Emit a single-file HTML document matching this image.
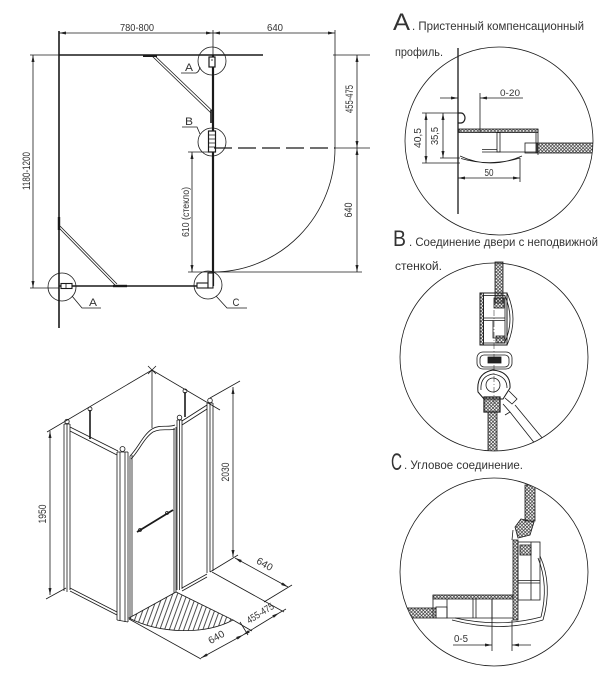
<!DOCTYPE html>
<html><head><meta charset="utf-8"><style>
html,body{margin:0;padding:0;background:#fff}
svg{display:block}
text{font-family:"Liberation Sans","Noto Sans CJK SC",sans-serif;fill:#333;stroke:none}
</style></head><body>
<svg width="609" height="680" viewBox="0 0 609 680" xmlns="http://www.w3.org/2000/svg">
<defs>
<marker id="ar" viewBox="0 0 7 3" refX="7" refY="1.5" markerWidth="7" markerHeight="3" markerUnits="userSpaceOnUse" orient="auto-start-reverse"><path d="M0,0 L7,1.5 L0,3 z" fill="#222"/></marker>
<pattern id="gl" width="3.4" height="3.4" patternUnits="userSpaceOnUse"><path d="M0,0L3.4,3.4M3.4,0L0,3.4" stroke="#333" stroke-width="0.7"/></pattern>
<pattern id="hat" width="4.5" height="10" patternUnits="userSpaceOnUse" patternTransform="rotate(20)"><line x1="1" y1="0" x2="1" y2="10" stroke="#222" stroke-width="0.8"/></pattern>
<clipPath id="cA"><circle cx="499" cy="141" r="94"/></clipPath>
<clipPath id="cB"><circle cx="494" cy="357" r="94"/></clipPath>
<clipPath id="cC"><circle cx="494" cy="572" r="94"/></clipPath>
</defs>

<!-- ================= PLAN ================= -->
<g stroke="#1a1a1a" fill="none" stroke-width="0.8">
  <line x1="59" y1="33" x2="213" y2="33" marker-start="url(#ar)" marker-end="url(#ar)"/>
  <line x1="213" y1="33" x2="335" y2="33" marker-start="url(#ar)" marker-end="url(#ar)"/>
  <line x1="213" y1="30" x2="213" y2="55"/>
  <line x1="335" y1="30" x2="335" y2="148"/>
  <line x1="33" y1="55" x2="33" y2="288" marker-start="url(#ar)" marker-end="url(#ar)"/>
  <line x1="30" y1="55" x2="59" y2="55"/>
  <line x1="30" y1="288" x2="59" y2="288"/>
  <line x1="59" y1="55" x2="263" y2="55" stroke-width="1.6"/>
  <line x1="59" y1="31" x2="59" y2="328" stroke-width="1.6"/>
  <line x1="59" y1="286" x2="213" y2="286" stroke-width="1.6"/>
  <line x1="213" y1="55" x2="213" y2="286" stroke-width="2.2"/>
  <line x1="152" y1="56" x2="211" y2="113"/>
  <line x1="154" y1="55" x2="212.5" y2="111"/>
  <line x1="143" y1="56" x2="157" y2="56" stroke-width="2"/>
  <line x1="211" y1="110" x2="211" y2="123" stroke-width="1.6"/>
  <line x1="59" y1="228" x2="115" y2="285"/>
  <line x1="60" y1="226" x2="117" y2="284"/>
  <line x1="59" y1="217" x2="59" y2="230" stroke-width="2.4"/>
  <line x1="113" y1="286" x2="127" y2="286" stroke-width="2.4"/>
  <rect x="209" y="57" width="6" height="10" fill="#fff" stroke-width="1.2"/>
  <line x1="211" y1="60" x2="213" y2="60"/>
  <rect x="208.5" y="131" width="7" height="21" fill="#fff" stroke-width="1.2"/>
  <path d="M209,135h6M209,139h6M209,143h6M209,147h6"/>
  <rect x="61" y="283.5" width="11" height="5" fill="#fff" stroke-width="1.1"/>
  <line x1="66" y1="283.5" x2="66" y2="288.5"/>
  <rect x="197" y="283" width="11" height="5" fill="#fff" stroke-width="1.1"/>
  <rect x="208" y="273" width="5" height="15" fill="#fff" stroke-width="1.1"/>
  <circle cx="212" cy="61" r="14"/>
  <circle cx="212" cy="142" r="14"/>
  <circle cx="62" cy="287" r="14"/>
  <circle cx="208" cy="285" r="14"/>
  <path d="M181,73 L196,73 Q199,72 200,67"/>
  <path d="M182,127 L197,127 L200,134"/>
  <path d="M72,296 L82,308 L101,308"/>
  <path d="M216,296 L227,308 L247,308"/>
  <line x1="214" y1="148" x2="335" y2="148" stroke-width="1.3" stroke-dasharray="18,6"/>
  <line x1="335" y1="148" x2="370" y2="148"/>
  <path d="M335,148 A122,124 0 0 1 213,272"/>
  <line x1="213" y1="272" x2="362" y2="272"/>
  <line x1="333" y1="55" x2="370" y2="55"/>
  <line x1="357" y1="55" x2="357" y2="148" marker-start="url(#ar)" marker-end="url(#ar)"/>
  <line x1="357" y1="148" x2="357" y2="272" marker-start="url(#ar)" marker-end="url(#ar)"/>
  <line x1="192" y1="152" x2="192" y2="272" marker-start="url(#ar)" marker-end="url(#ar)"/>
  <line x1="188" y1="152" x2="213" y2="152"/>
  <line x1="188" y1="272" x2="213" y2="272"/>
</g>
<g font-size="10">
  <text x="137" y="31" text-anchor="middle" textLength="34" lengthAdjust="spacingAndGlyphs">780-800</text>
  <text x="275" y="31" text-anchor="middle" textLength="16" lengthAdjust="spacingAndGlyphs">640</text>
  <text transform="translate(30,171) rotate(-90)" text-anchor="middle" font-size="11" y="0" textLength="38" lengthAdjust="spacingAndGlyphs">1180-1200</text>
  <text transform="translate(353,99) rotate(-90)" text-anchor="middle" font-size="11" textLength="28" lengthAdjust="spacingAndGlyphs">455-475</text>
  <text transform="translate(352,210) rotate(-90)" text-anchor="middle" font-size="11" textLength="15" lengthAdjust="spacingAndGlyphs">640</text>
  <text transform="translate(189,212) rotate(-90)" text-anchor="middle" font-size="10" textLength="50" lengthAdjust="spacingAndGlyphs">610 (стекло)</text>
  <text x="189" y="71" text-anchor="middle" font-size="11" textLength="8" lengthAdjust="spacingAndGlyphs">A</text>
  <text x="189" y="125" text-anchor="middle" font-size="11" textLength="8" lengthAdjust="spacingAndGlyphs">B</text>
  <text x="93" y="306" text-anchor="middle" font-size="11" textLength="8" lengthAdjust="spacingAndGlyphs">A</text>
  <text x="236" y="306" text-anchor="middle" font-size="11" textLength="7" lengthAdjust="spacingAndGlyphs">C</text>
</g>

<!-- ================= ISO ================= -->
<path d="M129,618 L176,592 L233,620 C205,635 160,634 129,618 Z" fill="url(#hat)" stroke="#1a1a1a" stroke-width="0.8"/>
<g stroke="#1a1a1a" fill="none" stroke-width="0.8">
  <polyline points="47,432 152,370 220,410"/>
  <line x1="148" y1="366" x2="156" y2="374"/><line x1="156" y1="366" x2="148" y2="374"/>
  <line x1="152" y1="370" x2="152" y2="428"/>
  <line x1="210" y1="398" x2="240" y2="381"/>
  <line x1="50" y1="431" x2="50" y2="595" marker-start="url(#ar)" marker-end="url(#ar)"/>
  <line x1="46" y1="599" x2="66" y2="588"/>
  <line x1="233" y1="387" x2="233" y2="557" marker-start="url(#ar)" marker-end="url(#ar)"/>
  <line x1="210" y1="572" x2="238" y2="555"/>
  <!-- left post -->
  <path d="M64,424V591M67,424V592M70,424V590"/>
  <path d="M64,424 H70"/>
  <circle cx="67" cy="421.5" r="2.2"/>
  <line x1="70" y1="427" x2="118" y2="451"/>
  <line x1="70" y1="431" x2="117" y2="455"/>
  <line x1="70" y1="588" x2="117" y2="612"/>
  <line x1="70" y1="591" x2="117" y2="615"/>
  <line x1="90" y1="410" x2="90" y2="439" stroke-width="1.6"/>
  <circle cx="90" cy="409" r="2"/>
  <!-- corner post -->
  <path d="M117,452V620M120,452V621M125,452V622M128,452V622"/>
  <path d="M117,452 H128"/>
  <circle cx="122.5" cy="449" r="2.5"/>
  <line x1="117" y1="620" x2="128" y2="622"/>
  <!-- door -->
  <path d="M130,456V617M132,455V616"/>
  <path d="M174,428V593M176,427V592"/>
  <path d="M130,456 C138,448 143,435 152,429 C160,424 168,428 175,425"/>
  <path d="M131,459 C139,451 144,438 153,432 C161,428 168,431 175,429"/>
  <line x1="137" y1="532" x2="173" y2="510" stroke-width="1.8"/>
  <circle cx="140" cy="530" r="1.5"/><circle cx="167" cy="513" r="1.5"/>
  <!-- right fixed panel -->
  <path d="M177,420V590M179.5,420V590M182,420V589"/>
  <path d="M177,420 H182"/>
  <circle cx="179.5" cy="417.5" r="2.3"/>
  <line x1="182" y1="421" x2="207" y2="405"/>
  <line x1="182" y1="425" x2="207" y2="409"/>
  <line x1="182" y1="588" x2="207" y2="574"/>
  <line x1="182" y1="591" x2="207" y2="577"/>
  <path d="M207,403V573M210,403V572M213,403V571"/>
  <path d="M207,403 H213"/>
  <circle cx="210" cy="400.5" r="2.3"/>
  <line x1="185" y1="392" x2="185" y2="417" stroke-width="1.6"/>
  <circle cx="185" cy="391" r="2"/>
  <!-- floor -->
  <line x1="212" y1="572" x2="284" y2="612"/>
  <line x1="233" y1="620" x2="252" y2="631"/>
  <line x1="129" y1="619" x2="201" y2="659"/>
  <line x1="201" y1="658" x2="243" y2="635" marker-start="url(#ar)" marker-end="url(#ar)"/>
  <line x1="243" y1="635" x2="279" y2="613" marker-start="url(#ar)" marker-end="url(#ar)"/>
  <line x1="279" y1="613" x2="286" y2="609"/>
  <line x1="235" y1="558" x2="288" y2="587" marker-start="url(#ar)" marker-end="url(#ar)"/>
  <line x1="292" y1="585" x2="264" y2="602"/>
  <line x1="248" y1="635" x2="240" y2="622"/>
</g>
<g font-size="10">
  <text transform="translate(46,514) rotate(-90)" text-anchor="middle" font-size="11" textLength="19" lengthAdjust="spacingAndGlyphs">1950</text>
  <text transform="translate(229,472) rotate(-90)" text-anchor="middle" font-size="11" textLength="19" lengthAdjust="spacingAndGlyphs">2030</text>
  <text transform="translate(263,567) rotate(30)" text-anchor="middle" textLength="17" lengthAdjust="spacingAndGlyphs">640</text>
  <text transform="translate(262,616) rotate(-32)" text-anchor="middle" textLength="30" lengthAdjust="spacingAndGlyphs">455-475</text>
  <text transform="translate(218,640) rotate(-30)" text-anchor="middle" textLength="17" lengthAdjust="spacingAndGlyphs">640</text>
</g>

<!-- ================= HEADINGS ================= -->
<text x="393" y="30" font-size="24" textLength="17" lengthAdjust="spacingAndGlyphs">A</text>
<text x="412" y="30" font-size="11.5" textLength="172" lengthAdjust="spacingAndGlyphs">. Пристенный компенсационный</text>
<text x="395" y="56" font-size="11.5" textLength="48" lengthAdjust="spacingAndGlyphs">профиль.</text>
<text x="393" y="246" font-size="22" textLength="13" lengthAdjust="spacingAndGlyphs">B</text>
<text x="409" y="246" font-size="11.5" textLength="189" lengthAdjust="spacingAndGlyphs">. Соединение двери с неподвижной</text>
<text x="395" y="270" font-size="11.5" textLength="47" lengthAdjust="spacingAndGlyphs">стенкой.</text>
<text x="391" y="470" font-size="24" textLength="11" lengthAdjust="spacingAndGlyphs">C</text>
<text x="404" y="469" font-size="11.5" textLength="119" lengthAdjust="spacingAndGlyphs">. Угловое соединение.</text>

<!-- ================= DETAIL A ================= -->
<g stroke="#1a1a1a" fill="none" stroke-width="0.8">
  <circle cx="499" cy="141" r="94"/>
  <line x1="458" y1="48" x2="458" y2="214" stroke-width="1.3"/>
  <path d="M458,113 h3 a4,5 0 0 1 0,10 h-3" stroke-width="1.2"/>
  <line x1="440" y1="98" x2="458" y2="98" marker-end="url(#ar)"/>
  <line x1="480" y1="93" x2="480" y2="132"/>
  <line x1="523" y1="98" x2="480" y2="98" marker-end="url(#ar)"/>
  <line x1="426" y1="113" x2="426" y2="163" marker-start="url(#ar)" marker-end="url(#ar)"/>
  <line x1="422" y1="113" x2="458" y2="113"/>
  <line x1="422" y1="163" x2="460" y2="163"/>
  <line x1="443" y1="113" x2="443" y2="158" marker-start="url(#ar)" marker-end="url(#ar)"/>
  <line x1="440" y1="158" x2="460" y2="158"/>
  <line x1="458" y1="178" x2="520" y2="178" marker-start="url(#ar)" marker-end="url(#ar)"/>
  <line x1="520" y1="158" x2="520" y2="182"/>
  <rect x="459" y="129" width="79" height="3.5" fill="url(#gl)"/>
  <path d="M538,129 V155 M536,133 V153 M482,152 H536 M482,149.5 H497"/>
  <rect x="497" y="132.5" width="3" height="19.5"/>
  <rect x="525" y="143" width="12" height="10"/>
  <path d="M460,156 Q490,170 522,156 M461,158.5 Q490,167 520,158"/>
  <g clip-path="url(#cA)"><rect x="537" y="143" width="62" height="10" fill="url(#gl)"/></g>
</g>
<text x="510" y="96" font-size="9.5" text-anchor="middle" textLength="20" lengthAdjust="spacingAndGlyphs">0-20</text>
<text transform="translate(421,138) rotate(-90)" font-size="10" text-anchor="middle" textLength="20" lengthAdjust="spacingAndGlyphs">40,5</text>
<text transform="translate(438,136) rotate(-90)" font-size="10" text-anchor="middle" textLength="18" lengthAdjust="spacingAndGlyphs">35,5</text>
<text x="489" y="176" font-size="10" text-anchor="middle" textLength="9" lengthAdjust="spacingAndGlyphs">50</text>

<!-- ================= DETAIL B ================= -->
<g stroke="#1a1a1a" fill="none" stroke-width="0.8">
  <circle cx="494" cy="357" r="94"/>
  <rect x="495" y="262" width="8" height="41" fill="url(#gl)"/>
  <rect x="480" y="293" width="27" height="52" stroke-width="1"/>
  <rect x="480" y="293" width="3.5" height="52" fill="url(#gl)"/>
  <rect x="483.5" y="295.5" width="21.5" height="47.5"/>
  <path d="M483.5,318 H505 M483.5,320.5 H505"/>
  <rect x="494" y="298" width="10" height="10" fill="url(#gl)"/>
  <path d="M493,320.5 V338 H505"/>
  <rect x="496" y="336" width="9" height="7" fill="url(#gl)"/>
  <path d="M507,293 Q519,319 507,345 M505,296 Q515,319 505,342"/>
  <rect x="477" y="352" width="35" height="17" rx="6"/>
  <rect x="480" y="355" width="29" height="12" rx="4"/>
  <rect x="488" y="357" width="13" height="6" fill="#222"/>
  <line x1="494" y1="310" x2="494" y2="405" stroke-width="0.5" stroke-dasharray="6,2,1,2"/>
  <path d="M478,392 Q476,373 493,370 Q511,372 510,388 L503,399 L484,399 Z" stroke-width="1"/>
  <path d="M481,390 Q480,376 493,374 Q507,376 507,388"/>
  <circle cx="493" cy="385" r="7"/>
  <rect x="484" y="397" width="16" height="15" fill="url(#gl)" stroke-width="1.2"/>
  <g clip-path="url(#cB)">
    <rect x="488" y="412" width="9" height="45" fill="url(#gl)"/>
    <path d="M509,391 L517,399 L512,404 L505,398"/>
    <path d="M503,404 L510,412 L505,415"/>
    <line x1="515" y1="405" x2="548" y2="445"/>
    <line x1="510" y1="412" x2="540" y2="450"/>
  </g>
</g>

<!-- ================= DETAIL C ================= -->
<g stroke="#1a1a1a" fill="none" stroke-width="0.8">
  <circle cx="494" cy="572" r="94"/>
  <g clip-path="url(#cC)"><rect x="525" y="485" width="10" height="36" fill="url(#gl)"/></g>
  <path d="M515,527 L521,519 L534,522 L530,535 L518,538 Z" fill="url(#gl)"/>
  <path d="M513,530 L512,540"/>
  <rect x="513" y="540" width="5" height="80" fill="url(#gl)"/>
  <rect x="518" y="542" width="22" height="58"/>
  <path d="M518,580.5 H540 M518,583 H540 M531,542 V600"/>
  <rect x="520" y="545" width="11" height="10" fill="url(#gl)"/>
  <path d="M540,556 Q553,585 543,620 M538,558 Q549,585 541,617"/>
  <rect x="433" y="595" width="80" height="4" fill="url(#gl)"/>
  <path d="M433,595 V618 M447,599 V618 H513 M473,599 V618 M476,599 V618 M492,599 V620"/>
  <rect x="436" y="607" width="11" height="11"/>
  <g clip-path="url(#cC)"><rect x="398" y="608" width="38" height="10" fill="url(#gl)"/></g>
  <path d="M452,620 Q500,633 543,620 M455,618 Q500,628 541,617"/>
  <line x1="492" y1="599" x2="492" y2="651"/>
  <line x1="512" y1="620" x2="512" y2="651"/>
  <line x1="453" y1="645" x2="492" y2="645" marker-end="url(#ar)"/>
  <line x1="531" y1="645" x2="512" y2="645" marker-end="url(#ar)"/>
</g>
<text x="461" y="642" font-size="10" text-anchor="middle" textLength="14" lengthAdjust="spacingAndGlyphs">0-5</text>
</svg>
</body></html>
